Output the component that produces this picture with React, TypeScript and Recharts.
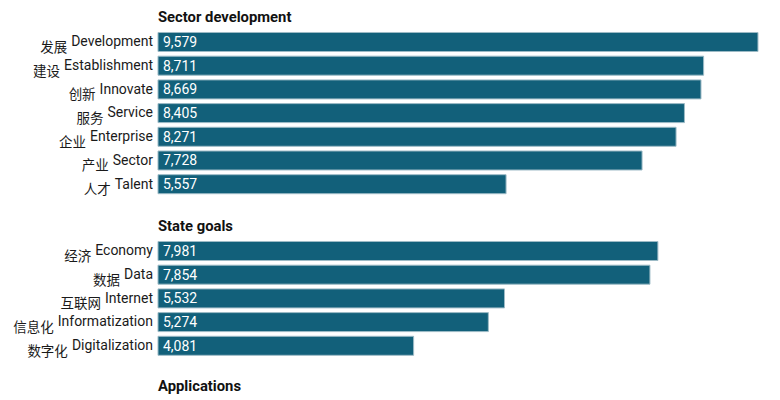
import React from 'react';
import { BarChart, Bar, XAxis, YAxis, LabelList } from 'recharts';

const sectorNames = ['Development', 'Establishment', 'Innovate', 'Service', 'Enterprise', 'Sector', 'Talent'];
const sectorZh = ['发展', '建设', '创新', '服务', '企业', '产业', '人才'];
const sectorValues = [9579, 8711, 8669, 8405, 8271, 7728, 5557];

const stateNames = ['Economy', 'Data', 'Internet', 'Informatization', 'Digitalization'];
const stateZh = ['经济', '数据', '互联网', '信息化', '数字化'];
const stateValues = [7981, 7854, 5532, 5274, 4081];

const sectionTitles = ['Sector development', 'State goals', 'Applications'];

const MAX = 9579;
const PITCH = 23.7;
const TOP = 30.5;
const FONT = "Roboto, 'Noto Sans CJK SC', sans-serif";

type SectionProps = {
  title: string;
  names: string[];
  zh: string[];
  values: number[];
  top: number;
};

function Section({ title, names, zh, values, top }: SectionProps) {
  const data = names.map((n, i) => ({ name: n, zh: zh[i], value: values[i] }));
  const height = TOP + names.length * PITCH;
  const Tick = (props: any) => {
    const { x, y, payload } = props;
    const idx = payload.index;
    return (
      <text x={x} y={y} textAnchor="end" fontFamily={FONT} fill="#1a1a1a">
        <tspan dy={9.5} fontSize={13.5}>{zh[idx]}</tspan>
        <tspan dy={-5.5} dx={4} fontSize={14}>{payload.value}</tspan>
      </text>
    );
  };
  return (
    <div style={{ position: 'absolute', left: 0, top, width: 780, height }}>
      <div
        style={{
          position: 'absolute',
          left: 158,
          top: 7,
          height: 20,
          lineHeight: '20px',
          fontFamily: FONT,
          fontWeight: 700,
          fontSize: 14.8,
          color: '#111',
          whiteSpace: 'nowrap',
        }}
      >
        {title}
      </div>
      {names.length > 0 && (
        <BarChart
          width={780}
          height={height}
          data={data}
          layout="vertical"
          margin={{ top: TOP, right: 22, bottom: 0, left: 0 }}
          barCategoryGap={0}
        >
          <XAxis type="number" domain={[0, MAX]} hide />
          <YAxis
            type="category"
            dataKey="name"
            width={158}
            axisLine={false}
            tickLine={false}
            tickSize={0}
            tickMargin={5}
            interval={0}
            tick={<Tick />}
          />
          <Bar
            dataKey="value"
            barSize={19}
            fill="#12607A"
            stroke="#9DBBC6"
            strokeWidth={1}
            isAnimationActive={false}
          >
            <LabelList
              dataKey="value"
              position="insideLeft"
              offset={5}
              fill="#ffffff"
              fontSize={14}
              fontFamily={FONT}
              formatter={(v: any) => Number(v).toLocaleString('en-US')}
            />
          </Bar>
        </BarChart>
      )}
    </div>
  );
}

export default function App() {
  return (
    <div style={{ position: 'absolute', left: 0, top: 0, width: 780, height: 400, background: '#fff', overflow: 'hidden' }}>
      <Section title={sectionTitles[0]} names={sectorNames} zh={sectorZh} values={sectorValues} top={0} />
      <Section title={sectionTitles[1]} names={stateNames} zh={stateZh} values={stateValues} top={209} />
      <Section title={sectionTitles[2]} names={[]} zh={[]} values={[]} top={369} />
    </div>
  );
}
